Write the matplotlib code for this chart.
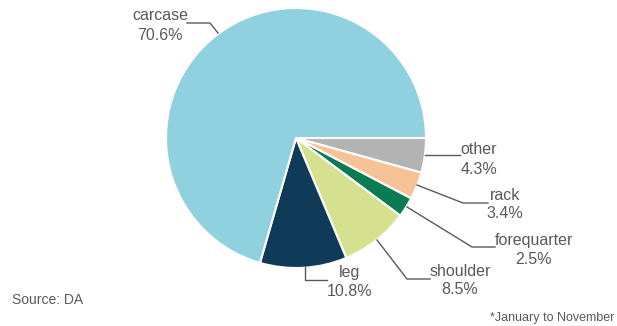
import matplotlib
matplotlib.use("Agg")
import matplotlib.pyplot as plt

categories = ["other", "rack", "forequarter", "shoulder", "leg", "carcase"]
values = [4.3, 3.4, 2.5, 8.5, 10.8, 70.6]
colors = ["#b3b3b3", "#f6c396", "#0a7b52", "#d5e18f", "#0f3a58", "#8fd1df"]

W, H = 617, 326
fig = plt.figure(figsize=(W / 100, H / 100), dpi=100)
ax = fig.add_axes([0, 0, 1, 1])

def Y(py):
    return H - py

cx, cy, r = 296, 138, 130
ax.pie(values, colors=colors, startangle=0, counterclock=False,
       center=(cx, Y(cy)), radius=r, frame=True,
       wedgeprops=dict(edgecolor="white", linewidth=1.5))
ax.set_xlim(0, W)
ax.set_ylim(0, H)
ax.set_aspect("auto")
ax.axis("off")

font = "Liberation Sans"
tc = "#595959"
lc = "#5a5a5a"

leaders = {
    "carcase": ([218, 210, 187], [33, 23, 23], (160, 16), (160, 35)),
    "other": ([425, 460], [155, 155], (479, 149), (479, 170)),
    "rack": ([417, 463, 488], [185, 203, 203], (505, 196), (505, 214)),
    "forequarter": ([407, 472, 495], [207, 247, 247], (534, 240), (534, 260)),
    "shoulder": ([377, 407, 430], [240, 279, 279], (460, 271), (460, 290)),
    "leg": ([305, 305, 327], [267, 280, 280], (350, 273), (350, 292)),
}
for cat, val in zip(categories, values):
    xs, ys, p1, p2 = leaders[cat]
    ax.plot(xs, [Y(v) for v in ys], color=lc, lw=1)
    ax.text(p1[0], Y(p1[1]), cat, ha="center", va="center", fontsize=11.5,
            color=tc, family=font)
    ax.text(p2[0], Y(p2[1]), f"{val}%", ha="center", va="center", fontsize=11.5,
            color=tc, family=font)

ax.text(12, Y(300), "Source: DA", ha="left", va="center", fontsize=10,
        color=tc, family=font)
ax.text(614, Y(318), "*January to November", ha="right", va="center",
        fontsize=9, color=tc, family=font)

fig.savefig("out.png", dpi=100)
